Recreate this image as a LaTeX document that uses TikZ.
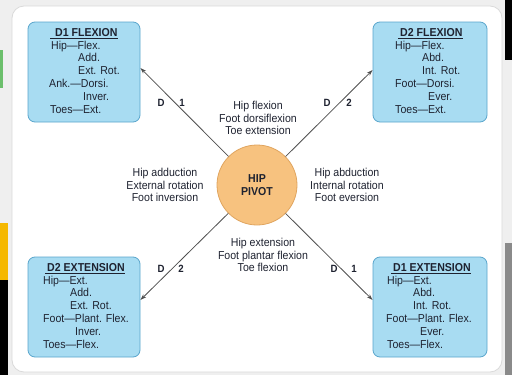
\documentclass[tikz,border=0pt]{standalone}
\usepackage{fontspec}
\setmainfont{Liberation Sans}[FakeStretch=0.92]
\usetikzlibrary{arrows.meta}
\definecolor{boxfill}{HTML}{A8DCF2}
\definecolor{boxline}{HTML}{5AA6CC}
\definecolor{pivfill}{HTML}{F7C27F}
\definecolor{pivline}{HTML}{E0A560}
\definecolor{txt}{HTML}{1E2230}
\definecolor{arrc}{HTML}{505050}
\definecolor{outerbg}{HTML}{EFEFEF}
\definecolor{panelline}{HTML}{DADADA}
\definecolor{stripgreen}{HTML}{6CBF6C}
\definecolor{stripyellow}{HTML}{F5B800}
\definecolor{stripgray}{HTML}{8A8A8A}
\begin{document}
\begin{tikzpicture}[x=1pt,y=-1pt,
  fnt/.style={font=\fontsize{11.5}{12.8}\selectfont},
  pbox/.style={draw=boxline, fill=boxfill, line width=0.8pt, rounded corners=7pt, minimum height=100pt, inner sep=0},
  boxtext/.style={fnt, text=txt, align=left, anchor=north west, inner sep=0},
  midtext/.style={fnt, text=txt, align=center, inner sep=0},
  dlabel/.style={font=\fontsize{10.5}{12}\selectfont\bfseries, text=txt, inner sep=0},
  conn/.style={draw=arrc, line width=0.8pt, -{Stealth[length=6pt,width=4pt]}},
]
\useasboundingbox (0,0) rectangle (512,375);
\fill[outerbg] (0,0) rectangle (512,375);
% screenshot edge strips
\fill[stripgreen] (0,50) rectangle (3,88);
\fill[stripyellow] (0,223) rectangle (8,280);
\fill[black] (0,280) rectangle (8,375);
\fill[black] (505,0) rectangle (512,60);
\fill[stripgray] (505,243) rectangle (512,375);
% panel
\draw[panelline, fill=white, rounded corners=12pt, line width=0.8pt] (12,6) rectangle (502,372);

% boxes
\node[pbox, minimum width=112pt] (b1) at (84,72) {};
\node[pbox, minimum width=114pt] (b2) at (430,72) {};
\node[pbox, minimum width=112pt] (b3) at (84,307) {};
\node[pbox, minimum width=114pt] (b4) at (430,307) {};

\node[boxtext] (t1) at (49,28) {\hspace*{1pt}\underline{\hspace*{5pt}\textbf{D1 FLEXION}}\\
\hspace*{2pt}Hip—Flex.\\
\hspace*{29pt}Add.\\
\hspace*{29pt}Ext. Rot.\\
Ank.—Dorsi.\\
\hspace*{34pt}Inver.\\
\hspace*{1pt}Toes—Ext.};

\node[boxtext] (t2) at (395,28) {\hspace*{3pt}\underline{\hspace*{2pt}\textbf{D2 FLEXION}}\\
Hip—Flex.\\
\hspace*{27pt}Abd.\\
\hspace*{27pt}Int. Rot.\\
Foot—Dorsi.\\
\hspace*{33pt}Ever.\\
Toes—Ext.};

\node[boxtext] (t3) at (43,263) {\hspace*{2pt}\underline{\hspace*{2pt}\textbf{D2 EXTENSION}}\\
Hip—Ext.\\
\hspace*{27pt}Add.\\
\hspace*{27pt}Ext. Rot.\\
Foot—Plant. Flex.\\
\hspace*{32pt}Inver.\\
Toes—Flex.};

\node[boxtext] (t4) at (386,263) {\hspace*{5pt}\underline{\hspace*{2pt}\textbf{D1 EXTENSION}}\\
\hspace*{1pt}Hip—Ext.\\
\hspace*{27pt}Abd.\\
\hspace*{27pt}Int. Rot.\\
Foot—Plant. Flex.\\
\hspace*{34pt}Ever.\\
\hspace*{1pt}Toes—Flex.};

% pivot
\node[circle, draw=pivline, fill=pivfill, line width=0.8pt, minimum size=80pt, inner sep=0,
      font=\fontsize{11.5}{12.8}\selectfont\bfseries, text=txt, align=center] (pivot) at (257,185) {HIP\\PIVOT};

% connectors
\draw[conn] (pivot) -- ([yshift=4pt]b1.east);
\draw[conn] (pivot) -- ([yshift=2pt]b2.west);
\draw[conn] (pivot) -- ([yshift=7pt]b3.east);
\draw[conn] (pivot) -- ([yshift=7pt]b4.west);

% diagonal labels
\node[dlabel] (d1a) at (161,103) {D};
\node[dlabel] (d1b) at (182,103) {1};
\node[dlabel] (d2a) at (327,103) {D};
\node[dlabel] (d2b) at (349,103) {2};
\node[dlabel] (d3a) at (161,269) {D};
\node[dlabel] (d3b) at (181,269) {2};
\node[dlabel] (d4a) at (334,269) {D};
\node[dlabel] (d4b) at (354,269) {1};

% middle texts
\node[midtext] (mtop) at (258,118) {Hip flexion\\Foot dorsiflexion\\Toe extension};
\node[midtext] (mleft) at (165,185) {Hip adduction\\External rotation\\Foot inversion};
\node[midtext] (mright) at (347,185) {Hip abduction\\Internal rotation\\Foot eversion};
\node[midtext] (mbot) at (263,255) {Hip extension\\Foot plantar flexion\\Toe flexion};
\end{tikzpicture}
\end{document}
